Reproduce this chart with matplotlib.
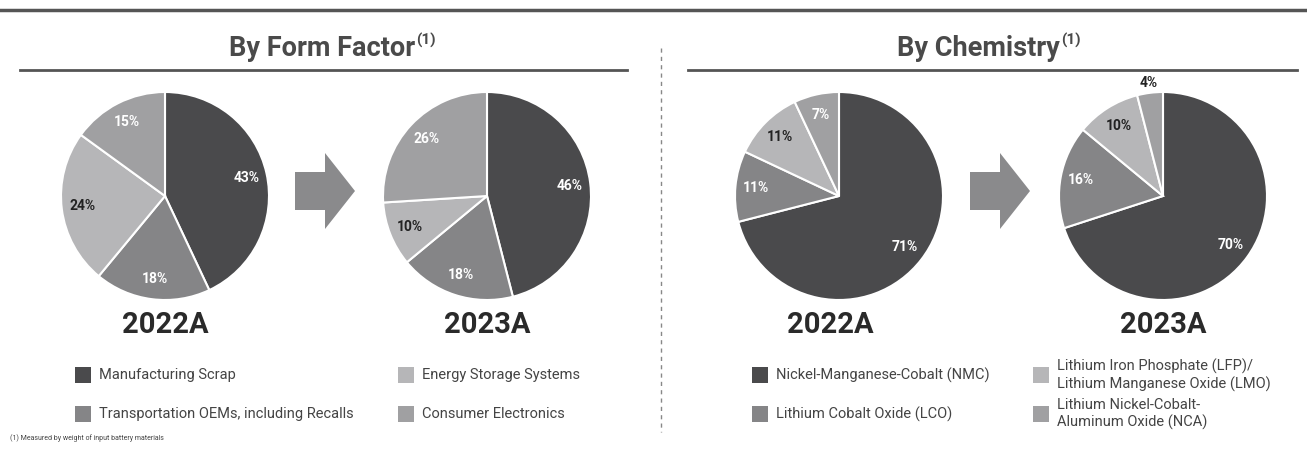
import numpy as np
import matplotlib.pyplot as plt
from matplotlib.patches import Rectangle, FancyArrow

# dane
years = ['2022A', '2023A']

form_labels = ['Manufacturing Scrap', 'Transportation OEMs, including Recalls',
               'Energy Storage Systems', 'Consumer Electronics']
form_2022 = [43, 18, 24, 15]
form_2023 = [46, 18, 10, 26]

chem_labels = ['Nickel-Manganese-Cobalt (NMC)', 'Lithium Cobalt Oxide (LCO)',
               'Lithium Iron Phosphate (LFP)/\nLithium Manganese Oxide (LMO)',
               'Lithium Nickel-Cobalt-\nAluminum Oxide (NCA)']
chem_2022 = [71, 11, 11, 7]
chem_2023 = [70, 16, 10, 4]

colors = ['#4a4a4c', '#858587', '#b6b6b8', '#a0a0a2']
text_colors = ['white', 'white', '#222222', 'white']

plt.rcParams['font.family'] = ['Roboto', 'DejaVu Sans']

W, H = 1307, 450
fig = plt.figure(figsize=(W / 100, H / 100), dpi=100)

# tło w pikselach
bg = fig.add_axes([0, 0, 1, 1])
bg.set_xlim(0, W)
bg.set_ylim(H, 0)
bg.axis('off')

bg.plot([0, W], [10, 10], color='#555555', lw=2.5)
bg.plot([661, 661], [48, 432], color='#888888', lw=1, ls=(0, (3, 3)))

for cx, title, x0, x1 in [(322, 'By Form Factor', 20, 627),
                          (978, 'By Chemistry', 688, 1297)]:
    t = bg.text(cx, 49, title, ha='center', va='center', fontsize=19.5,
                fontweight='bold', color='#4a4a4a')
    # przypis jako indeks górny
    bg.annotate('(1)', xy=(1, 1), xycoords=t, xytext=(1, 2), textcoords='offset points',
                ha='left', va='top', fontsize=11, fontweight='bold', color='#4a4a4a')
    bg.plot([x0, x1], [70, 70], color='#555555', lw=2)

R = 104


def draw_pie(cx, cy, values, outside_small=False):
    ax = fig.add_axes([(cx - R) / W, (H - cy - R) / H, 2 * R / W, 2 * R / H])
    wedges, _ = ax.pie(values, colors=colors, startangle=90, counterclock=False,
                       wedgeprops=dict(edgecolor='white', linewidth=1.5))
    ax.set_xlim(-1, 1)
    ax.set_ylim(-1, 1)
    ax.set_aspect('equal')
    for i, w in enumerate(wedges):
        ang = np.deg2rad((w.theta1 + w.theta2) / 2)
        r = 0.8
        col = text_colors[i]
        if values[i] < 6 and outside_small:
            r = 1.1
            col = '#222222'
        ax.text(r * np.cos(ang), r * np.sin(ang), f'{values[i]}%', ha='center',
                va='center', fontsize=10, fontweight='bold', color=col, clip_on=False)


draw_pie(165, 196, form_2022)
draw_pie(487, 196, form_2023)
draw_pie(839, 196, chem_2022)
draw_pie(1163, 196, chem_2023, outside_small=True)

for x, yr in zip([165, 487, 830, 1163], years * 2):
    bg.text(x, 325, yr, ha='center', va='center', fontsize=21,
            fontweight='bold', color='#2a2a2a')

# strzałki
for x in [295, 970]:
    bg.add_patch(FancyArrow(x, 191, 60, 0, width=38, head_width=76, head_length=30,
                            length_includes_head=True, color='#8a8a8c', lw=0))


# legendy
def legend(items, xs, ys):
    for i, lab in enumerate(items):
        x = xs[0 if i in (0, 1) else 1]
        y = ys[i % 2]
        bg.add_patch(Rectangle((x, y - 8), 16, 16, color=colors[i], lw=0))
        bg.text(x + 24, y, lab, ha='left', va='center', fontsize=10.5,
                color='#444444', linespacing=1.25)


legend(form_labels, [75, 398], [375, 414])
legend(chem_labels, [752, 1033], [375, 414])

bg.text(10, 438, '(1) Measured by weight of input battery materials', fontsize=5,
        color='#444444', va='center')

fig.savefig('out.png', dpi=100)
